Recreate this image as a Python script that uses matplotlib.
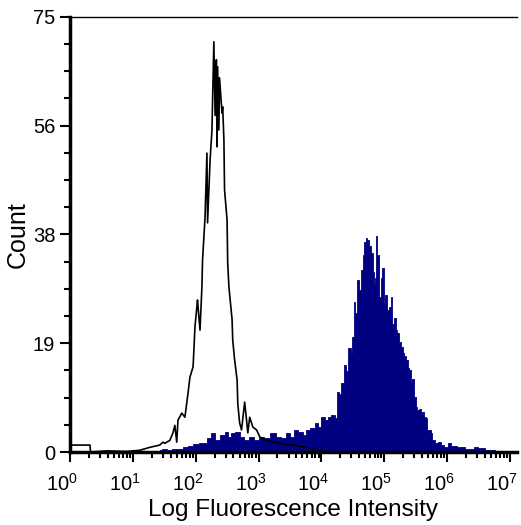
import numpy as np
import matplotlib
matplotlib.use("Agg")
from matplotlib import pyplot as plt
from matplotlib.ticker import FixedLocator, NullFormatter, LogFormatterSciNotation
from matplotlib.transforms import ScaledTranslation

plt.rcParams['font.family'] = ['Liberation Sans', 'DejaVu Sans']
plt.rcParams['mathtext.fontset'] = 'custom'
plt.rcParams['mathtext.rm'] = 'Liberation Sans'
plt.rcParams['mathtext.it'] = 'Liberation Sans'

# Isotype control (black outline): log10 intensity and count
control_log = [0.00, 0.32, 0.33, 0.60, 0.90, 1.11, 1.27, 1.35, 1.43, 1.48,
               1.51, 1.59, 1.64, 1.67, 1.70, 1.72, 1.78, 1.83, 1.88, 1.91,
               1.96, 1.99, 2.02, 2.03, 2.07, 2.10, 2.11, 2.15, 2.18, 2.19,
               2.23, 2.26, 2.27, 2.29, 2.31, 2.33, 2.34, 2.35, 2.37, 2.38,
               2.42, 2.43, 2.45, 2.46, 2.50, 2.51, 2.53, 2.58, 2.59, 2.62,
               2.66, 2.67, 2.70, 2.73, 2.78, 2.81, 2.83, 2.86, 2.91, 2.97,
               3.02, 3.05, 3.13, 3.34, 3.66, 3.90, 4.13, 7.10]
control_count = [1.2, 1.2, 0.0, 0.2, 0.1, 0.3, 0.8, 1.0, 1.2, 1.7,
                 1.5, 2.0, 3.3, 4.6, 1.7, 5.5, 6.7, 6.0, 10.2, 12.9,
                 14.7, 21.6, 25.0, 26.2, 21.0, 28.4, 33.0, 40.5, 51.5, 39.5,
                 50.3, 55.5, 60.7, 70.7, 58.0, 67.6, 52.6, 66.4, 55.5, 64.5,
                 58.4, 59.5, 53.8, 45.2, 40.0, 32.6, 28.4, 22.8, 19.3, 15.9,
                 12.4, 8.4, 5.0, 3.8, 8.6, 5.5, 3.3, 6.0, 4.3, 3.8,
                 2.6, 2.4, 2.0, 1.5, 1.0, 0.4, 0.0, 0.0]

# Stained sample (navy filled): log10 intensity and count
sample_log = [1.43, 1.51, 1.59, 1.67, 1.75, 1.83, 1.91, 1.99, 2.11, 2.23,
              2.27, 2.35, 2.43, 2.50, 2.54, 2.59, 2.67, 2.73, 2.81, 2.89,
              2.97, 3.05, 3.13, 3.23, 3.31, 3.39, 3.47, 3.53, 3.61, 3.66,
              3.74, 3.78, 3.86, 3.93, 3.97, 4.02, 4.09, 4.13, 4.18, 4.24,
              4.26, 4.29, 4.34, 4.37, 4.40, 4.45, 4.48, 4.50, 4.53, 4.55,
              4.58, 4.61, 4.64, 4.67, 4.69, 4.72, 4.74, 4.77, 4.80, 4.83,
              4.85, 4.86, 4.88, 4.90, 4.93, 4.96, 4.98, 5.01, 5.02, 5.06,
              5.09, 5.12, 5.14, 5.17, 5.20, 5.21, 5.25, 5.28, 5.31, 5.33,
              5.36, 5.39, 5.41, 5.44, 5.45, 5.48, 5.52, 5.53, 5.56, 5.61,
              5.64, 5.68, 5.69, 5.72, 5.76, 5.77, 5.83, 5.88, 5.91, 5.98,
              6.04, 6.09, 6.20, 6.36, 6.47, 6.52, 6.68, 6.84, 7.00]
sample_count = [0.3, 0.5, 0.3, 0.6, 0.5, 0.8, 1.0, 1.3, 1.5, 2.4,
                3.3, 2.0, 2.9, 3.4, 2.6, 3.3, 3.4, 2.6, 2.0, 2.6,
                2.0, 2.6, 2.4, 3.3, 2.6, 2.4, 3.3, 2.6, 3.8, 3.4,
                2.9, 3.8, 4.1, 5.0, 4.3, 6.0, 5.5, 6.0, 6.4, 5.9,
                10.3, 10.0, 11.9, 15.0, 14.0, 17.9, 17.0, 19.8, 25.9, 24.0,
                29.7, 28.0, 31.4, 34.0, 36.2, 36.8, 36.6, 35.5, 34.3, 31.0,
                29.1, 30.0, 37.2, 34.0, 26.7, 30.0, 31.7, 25.7, 27.0, 24.5,
                25.0, 26.7, 22.0, 23.1, 21.0, 20.5, 19.0, 18.1, 17.0, 16.5,
                15.9, 14.5, 14.1, 12.0, 12.5, 9.5, 7.8, 7.2, 7.5, 6.9,
                6.0, 5.9, 3.8, 3.8, 3.3, 2.1, 1.5, 1.7, 1.2, 0.8,
                1.5, 1.0, 0.9, 0.6, 0.9, 0.7, 0.4, 0.0, 0.0]

y_ticks = [0, 18.75, 37.5, 56.25, 75]
y_tick_labels = ['0', '19', '38', '56', '75']
x_decades = [0, 1, 2, 3, 4, 5, 6, 7]

fig = plt.figure(figsize=(5.21, 5.25), dpi=100)
ax = fig.add_axes([0.134, 0.139, 0.858, 0.829])

sample_x = 10 ** np.array(sample_log)
control_x = 10 ** np.array(control_log)
ax.fill_between(sample_x, sample_count, step='mid', color='#000080', linewidth=0.6,
                edgecolor='#000080')
ax.plot(control_x, control_count, color='black', linewidth=1.2)

ax.set_xscale('log')
ax.set_xlim(1, 10 ** 7.107)
ax.set_ylim(0, 75)

ax.set_yticks(y_ticks)
ax.set_yticklabels(y_tick_labels)
ax.yaxis.set_minor_locator(FixedLocator(np.linspace(0, 75, 17)))

minor_x = [m * 10.0 ** d for d in x_decades[:-1] for m in range(2, 10)]
ax.xaxis.set_major_locator(FixedLocator([10.0 ** d for d in x_decades]))
ax.xaxis.set_major_formatter(LogFormatterSciNotation())
ax.xaxis.set_minor_locator(FixedLocator(minor_x))
ax.xaxis.set_minor_formatter(NullFormatter())

ax.tick_params(axis='both', which='major', length=7, width=1.5, labelsize=14.5, direction='out')
ax.tick_params(axis='x', which='major', pad=8)
ax.tick_params(axis='both', which='minor', length=4, width=1.5, direction='out')

# the x labels sit a bit left of their ticks in the original
shift = ScaledTranslation(-8 / 100, 0, fig.dpi_scale_trans)
for label in ax.get_xticklabels():
    label.set_transform(label.get_transform() + shift)

ax.spines['right'].set_visible(False)
ax.spines['top'].set_linewidth(1.0)
ax.spines['left'].set_linewidth(2.5)
ax.spines['bottom'].set_linewidth(2.5)

ax.set_xlabel('Log Fluorescence Intensity', fontsize=17.5, labelpad=3)
ax.set_ylabel('Count', fontsize=18, labelpad=2)

fig.savefig('out.png', dpi=100)
